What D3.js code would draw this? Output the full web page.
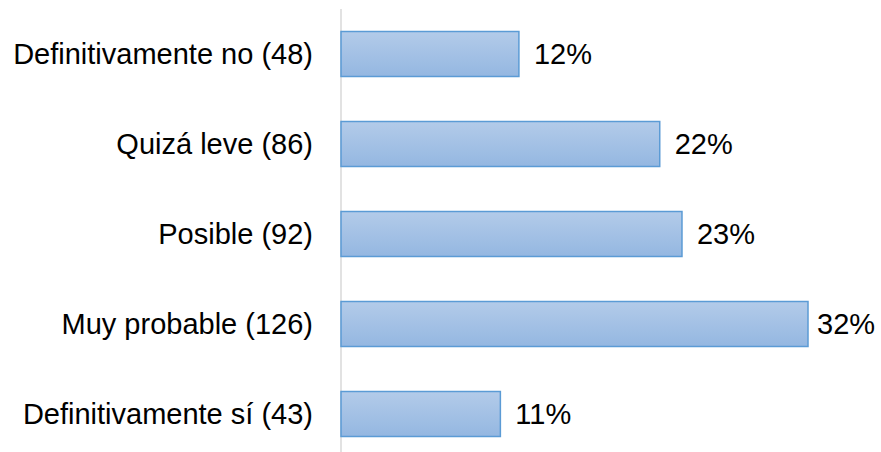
<!DOCTYPE html>
<html><head><meta charset="utf-8">
<script src="https://cdn.jsdelivr.net/npm/d3@7"></script>
<style>body{margin:0;background:#fff}svg{display:block}</style>
</head><body>
<script>
const categories = ["Definitivamente no","Quizá leve","Posible","Muy probable","Definitivamente sí"];
const counts = [48, 86, 92, 126, 43];
const pctLabels = ["12%","22%","23%","32%","11%"];

const W = 881, H = 452;
const svg = d3.select("body").append("svg").attr("width", W).attr("height", H);
const defs = svg.append("defs");
const g = defs.append("linearGradient").attr("id","bg").attr("x1",0).attr("y1",0).attr("x2",0).attr("y2",1);
g.append("stop").attr("offset","0%").attr("stop-color","#b3cbe9");
g.append("stop").attr("offset","100%").attr("stop-color","#94b7e1");

const x = d3.scaleLinear().domain([0, 126]).range([341, 808]);
const y = d3.scaleBand().domain(categories).range([9, 459]).paddingInner(0.5).paddingOuter(0.25);

svg.append("line").attr("x1",341).attr("x2",341).attr("y1",9).attr("y2",452)
  .attr("stroke","#d9d9d9").attr("stroke-width",1.5);

svg.selectAll("rect.bar").data(categories).join("rect").attr("class","bar")
  .attr("x", x(0)).attr("y", d => y(d))
  .attr("width", (d,i) => x(counts[i]) - x(0)).attr("height", y.bandwidth())
  .attr("fill","url(#bg)").attr("stroke","#5b9bd5").attr("stroke-width",1.5);

svg.selectAll("text.cat").data(categories).join("text").attr("class","cat")
  .attr("x", 313).attr("y", d => y(d) + y.bandwidth()/2).attr("dy","0.35em")
  .attr("text-anchor","end").attr("font-family","Liberation Sans, Arial, sans-serif")
  .attr("font-size", 29).attr("fill","#000")
  .text((d,i) => `${d} (${counts[i]})`);

svg.selectAll("text.val").data(categories).join("text").attr("class","val")
  .attr("x", (d,i) => Math.min(x(counts[i]) + 15, W - 64)).attr("y", d => y(d) + y.bandwidth()/2).attr("dy","0.35em")
  .attr("font-family","Liberation Sans, Arial, sans-serif")
  .attr("font-size", 29).attr("fill","#000")
  .text((d,i) => pctLabels[i]);
</script>
</body></html>
